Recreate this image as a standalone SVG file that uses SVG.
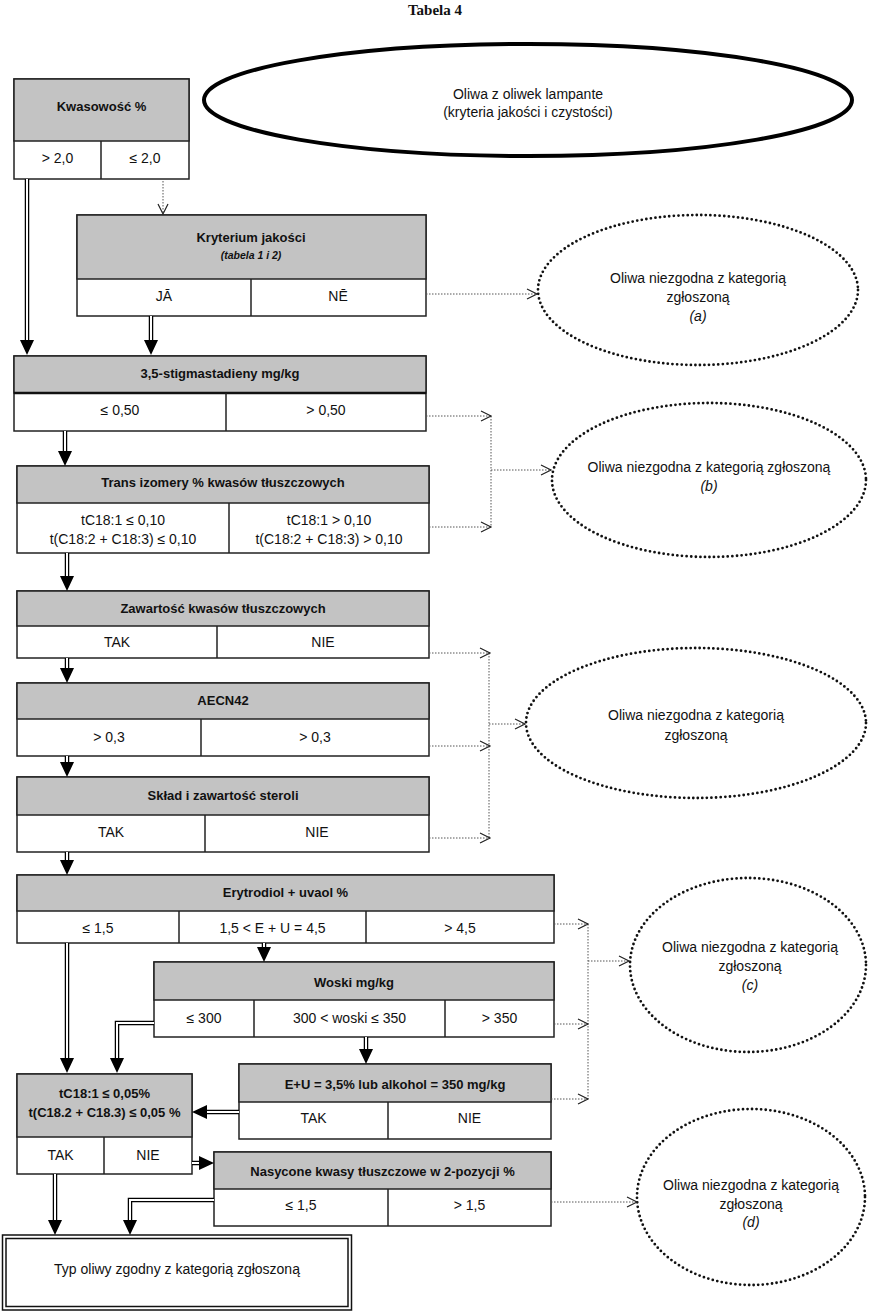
<svg xmlns="http://www.w3.org/2000/svg" width="869" height="1312" viewBox="0 0 869 1312">
<style>
.bg{fill:#fff}
.cell{fill:#fff;stroke:#222;stroke-width:1.5}
.hdr{fill:#c3c3c3;stroke:#222;stroke-width:1.5}
.div{stroke:#222;stroke-width:1.5}
.t{font-family:"Liberation Sans",Arial,sans-serif;font-size:14px;fill:#111;text-anchor:middle}
.b{font-family:"Liberation Sans",Arial,sans-serif;font-size:13px;font-weight:bold;fill:#111;text-anchor:middle}
.i{font-style:italic}
.ttl{font-family:"Liberation Serif","Times New Roman",serif;font-size:15px;font-weight:bold;fill:#111;text-anchor:middle}
.dot{fill:none;stroke:#555;stroke-width:1;stroke-dasharray:1.5 1.5}
.vh{fill:none;stroke:#222;stroke-width:1.2}
.ell{fill:#fff;stroke:#111;stroke-width:2.8;stroke-dasharray:0 4.6;stroke-linecap:round}
.dbo{fill:none;stroke:#000;stroke-width:4.5}
.dbi{fill:none;stroke:#fff;stroke-width:2}
.hd{fill:#000}
</style>
<rect class="bg" x="0" y="0" width="869" height="1312"/>
<text class="ttl" x="435" y="15">Tabela 4</text>

<g id="start">
<ellipse cx="528" cy="100" rx="324" ry="56" fill="#fff" stroke="#000" stroke-width="4"/>
<text class="t" x="528" y="99">Oliwa z oliwek lampante</text>
<text class="t" x="528" y="117">(kryteria jakości i czystości)</text>
</g>

<g id="kwasowosc">
<rect class="cell" x="14" y="79" width="175" height="100"/>
<rect class="hdr" x="14" y="79" width="175" height="62"/>
<line class="div" x1="101" y1="141" x2="101" y2="179"/>
<text class="b" x="101.5" y="111">Kwasowość %</text>
<text class="t" x="57.5" y="163">&gt; 2,0</text>
<text class="t" x="145" y="163">≤ 2,0</text>
</g>

<g id="kryterium">
<rect class="cell" x="77" y="215" width="349" height="101"/>
<rect class="hdr" x="77" y="215" width="349" height="64"/>
<line class="div" x1="251" y1="279" x2="251" y2="316"/>
<text class="b" x="251" y="242">Kryterium jakości</text>
<text class="b i" x="251" y="259" style="font-size:10.5px">(tabela 1 i 2)</text>
<text class="t" x="164" y="301">JĀ</text>
<text class="t" x="338" y="301">NĒ</text>
</g>

<g id="ell-a">
<ellipse class="ell" cx="698" cy="290" rx="160" ry="75"/>
<text class="t" x="698" y="283">Oliwa niezgodna z kategorią</text>
<text class="t" x="698" y="302">zgłoszoną</text>
<text class="t i" x="698" y="321">(a)</text>
</g>

<g id="stigmastadieny">
<rect class="cell" x="14" y="356" width="412" height="75"/>
<rect class="hdr" x="14" y="356" width="412" height="37"/>
<line x1="14" y1="393" x2="426" y2="393" stroke="#111" stroke-width="2.5"/>
<line class="div" x1="226" y1="393" x2="226" y2="431"/>
<text class="b" x="220" y="378">3,5-stigmastadieny mg/kg</text>
<text class="t" x="120" y="415">≤ 0,50</text>
<text class="t" x="326" y="415">&gt; 0,50</text>
</g>

<g id="trans">
<rect class="cell" x="17" y="466" width="412" height="87"/>
<rect class="hdr" x="17" y="466" width="412" height="37"/>
<line class="div" x1="229" y1="503" x2="229" y2="553"/>
<text class="b" x="223" y="487">Trans izomery % kwasów tłuszczowych</text>
<text class="t" x="123" y="525">tC18:1 ≤ 0,10</text>
<text class="t" x="123" y="544">t(C18:2 + C18:3) ≤ 0,10</text>
<text class="t" x="329" y="525">tC18:1 &gt; 0,10</text>
<text class="t" x="329" y="544">t(C18:2 + C18:3) &gt; 0,10</text>
</g>

<g id="ell-b">
<ellipse class="ell" cx="709" cy="480" rx="157" ry="77"/>
<text class="t" x="709" y="472">Oliwa niezgodna z kategorią zgłoszoną</text>
<text class="t i" x="709" y="491">(b)</text>
</g>

<g id="zawartosc">
<rect class="cell" x="17" y="591" width="412" height="67"/>
<rect class="hdr" x="17" y="591" width="412" height="35"/>
<line class="div" x1="217" y1="626" x2="217" y2="658"/>
<text class="b" x="223" y="613">Zawartość kwasów tłuszczowych</text>
<text class="t" x="117" y="647">TAK</text>
<text class="t" x="323" y="647">NIE</text>
</g>

<g id="aecn42">
<rect class="cell" x="17" y="683" width="412" height="73"/>
<rect class="hdr" x="17" y="683" width="412" height="36"/>
<line class="div" x1="201" y1="719" x2="201" y2="756"/>
<text class="b" x="223" y="705">AECN42</text>
<text class="t" x="109" y="742">&gt; 0,3</text>
<text class="t" x="315" y="742">&gt; 0,3</text>
</g>

<g id="sklad">
<rect class="cell" x="17" y="777" width="412" height="75"/>
<rect class="hdr" x="17" y="777" width="412" height="38"/>
<line class="div" x1="205" y1="815" x2="205" y2="852"/>
<text class="b" x="223" y="800">Skład i zawartość steroli</text>
<text class="t" x="111" y="837">TAK</text>
<text class="t" x="317" y="837">NIE</text>
</g>

<g id="ell-mid">
<ellipse class="ell" cx="696" cy="723" rx="170" ry="75"/>
<text class="t" x="696" y="720">Oliwa niezgodna z kategorią</text>
<text class="t" x="696" y="740">zgłoszoną</text>
</g>

<g id="erytrodiol">
<rect class="cell" x="17" y="875" width="537" height="68"/>
<rect class="hdr" x="17" y="875" width="537" height="36"/>
<line class="div" x1="179" y1="911" x2="179" y2="943"/>
<line class="div" x1="366" y1="911" x2="366" y2="943"/>
<text class="b" x="285.5" y="897">Erytrodiol + uvaol %</text>
<text class="t" x="98" y="933">≤ 1,5</text>
<text class="t" x="272.5" y="933">1,5 &lt; E + U = 4,5</text>
<text class="t" x="460" y="933">&gt; 4,5</text>
</g>

<g id="woski">
<rect class="cell" x="154" y="962" width="400" height="75"/>
<rect class="hdr" x="154" y="962" width="400" height="38"/>
<line class="div" x1="254" y1="1000" x2="254" y2="1037"/>
<line class="div" x1="445" y1="1000" x2="445" y2="1037"/>
<text class="b" x="354" y="987">Woski mg/kg</text>
<text class="t" x="204" y="1023">≤ 300</text>
<text class="t" x="349.5" y="1023">300 &lt; woski ≤ 350</text>
<text class="t" x="499.5" y="1023">&gt; 350</text>
</g>

<g id="ell-c">
<ellipse class="ell" cx="748" cy="965" rx="118" ry="87"/>
<text class="t" x="750" y="952">Oliwa niezgodna z kategorią</text>
<text class="t" x="750" y="971">zgłoszoną</text>
<text class="t i" x="750" y="990">(c)</text>
</g>

<g id="eu">
<rect class="cell" x="239" y="1064" width="312" height="75"/>
<rect class="hdr" x="239" y="1064" width="312" height="38"/>
<line class="div" x1="388" y1="1102" x2="388" y2="1139"/>
<text class="b" x="395" y="1089">E+U = 3,5% lub alkohol = 350 mg/kg</text>
<text class="t" x="313.5" y="1123">TAK</text>
<text class="t" x="469.5" y="1123">NIE</text>
</g>

<g id="tc18">
<rect class="cell" x="17" y="1074" width="175" height="100"/>
<rect class="hdr" x="17" y="1074" width="175" height="63"/>
<line class="div" x1="104" y1="1137" x2="104" y2="1174"/>
<text class="b" x="104.5" y="1098">tC18:1 ≤ 0,05%</text>
<text class="b" x="104.5" y="1117">t(C18.2 + C18.3) ≤ 0,05 %</text>
<text class="t" x="60.5" y="1160">TAK</text>
<text class="t" x="148" y="1160">NIE</text>
</g>

<g id="nasycone">
<rect class="cell" x="214" y="1152" width="337" height="74"/>
<rect class="hdr" x="214" y="1152" width="337" height="37"/>
<line class="div" x1="388" y1="1189" x2="388" y2="1226"/>
<text class="b" x="382.5" y="1176">Nasycone kwasy tłuszczowe w 2-pozycji %</text>
<text class="t" x="301" y="1210">≤ 1,5</text>
<text class="t" x="469.5" y="1210">&gt; 1,5</text>
</g>

<g id="ell-d">
<ellipse class="ell" cx="751" cy="1197" rx="114" ry="88"/>
<text class="t" x="751" y="1190">Oliwa niezgodna z kategorią</text>
<text class="t" x="751" y="1209">zgłoszoną</text>
<text class="t i" x="751" y="1227">(d)</text>
</g>

<g id="typ">
<rect x="2.5" y="1235" width="349" height="75" fill="#fff" stroke="#111" stroke-width="1.5"/>
<rect x="6" y="1238.5" width="342" height="68" fill="none" stroke="#111" stroke-width="1.5"/>
<text class="t" x="177" y="1274">Typ oliwy zgodny z kategorią zgłoszoną</text>
</g>

<g id="connectors">
<path class="dot" d="M163 181 V214"/>
<path class="vh" d="M158 204 L163 214 L168 204"/>
<path class="dot" d="M426 294 H537"/>
<path class="vh" d="M527 289 L537 294 L527 299"/>
<path class="dot" d="M426 416 H491 M429 527 H491 M491 416 V527 M491 470 H551"/>
<path class="vh" d="M481 411 L491 416 L481 421 M481 522 L491 527 L481 532 M541 465 L551 470 L541 475"/>
<path class="dot" d="M429 653 H490 M429 746 H490 M429 838 H490 M489 653 V838 M489 724 H525"/>
<path class="vh" d="M480 648 L490 653 L480 658 M480 741 L490 746 L480 751 M480 833 L490 838 L480 843 M515 719 L525 724 L515 729"/>
<path class="dot" d="M554 924 H588 M554 1024 H588 M551 1099 H588 M588 924 V1099 M588 961 H629"/>
<path class="vh" d="M578 919 L588 924 L578 929 M578 1019 L588 1024 L578 1029 M578 1094 L588 1099 L578 1104 M619 956 L629 961 L619 966"/>
<path class="dot" d="M551 1202 H637"/>
<path class="vh" d="M627 1197 L637 1202 L627 1207"/>

<path class="dbo" d="M27 179 V341"/><path class="dbi" d="M27 179 V342"/>
<polygon class="hd" points="20,340 34,340 27,355"/>
<path class="dbo" d="M151 316 V341"/><path class="dbi" d="M151 316 V342"/>
<polygon class="hd" points="144,340 158,340 151,355"/>
<path class="dbo" d="M65 431 V452"/><path class="dbi" d="M65 431 V453"/>
<polygon class="hd" points="58,451 72,451 65,466"/>
<path class="dbo" d="M67 553 V577"/><path class="dbi" d="M67 553 V578"/>
<polygon class="hd" points="60,576 74,576 67,591"/>
<path class="dbo" d="M67 658 V669"/><path class="dbi" d="M67 658 V670"/>
<polygon class="hd" points="60,668 74,668 67,683"/>
<path class="dbo" d="M67 756 V763"/><path class="dbi" d="M67 756 V764"/>
<polygon class="hd" points="60,762 74,762 67,777"/>
<path class="dbo" d="M67 852 V861"/><path class="dbi" d="M67 852 V862"/>
<polygon class="hd" points="60,860 74,860 67,875"/>
<path class="dbo" d="M264 943 V948"/><path class="dbi" d="M264 943 V949"/>
<polygon class="hd" points="257,947 271,947 264,962"/>
<path class="dbo" d="M67 943 V1059"/><path class="dbi" d="M67 943 V1060"/>
<polygon class="hd" points="60,1058 74,1058 67,1073"/>
<path class="dbo" d="M154 1023 H117 V1059"/><path class="dbi" d="M154 1023 H117 V1060"/>
<polygon class="hd" points="110,1058 124,1058 117,1073"/>
<path class="dbo" d="M366 1037 V1050"/><path class="dbi" d="M366 1037 V1051"/>
<polygon class="hd" points="359,1049 373,1049 366,1064"/>
<path class="dbo" d="M239 1112 H206"/><path class="dbi" d="M239 1112 H205"/>
<polygon class="hd" points="207,1105 207,1119 192,1112"/>
<path class="dbo" d="M192 1163 H200"/><path class="dbi" d="M192 1163 H201"/>
<polygon class="hd" points="199,1156 199,1170 214,1163"/>
<path class="dbo" d="M214 1200 H130 V1221"/><path class="dbi" d="M214 1200 H130 V1222"/>
<polygon class="hd" points="123,1220 137,1220 130,1235"/>
<path class="dbo" d="M55 1174 V1221"/><path class="dbi" d="M55 1174 V1222"/>
<polygon class="hd" points="48,1220 62,1220 55,1235"/>
</g>
</svg>
